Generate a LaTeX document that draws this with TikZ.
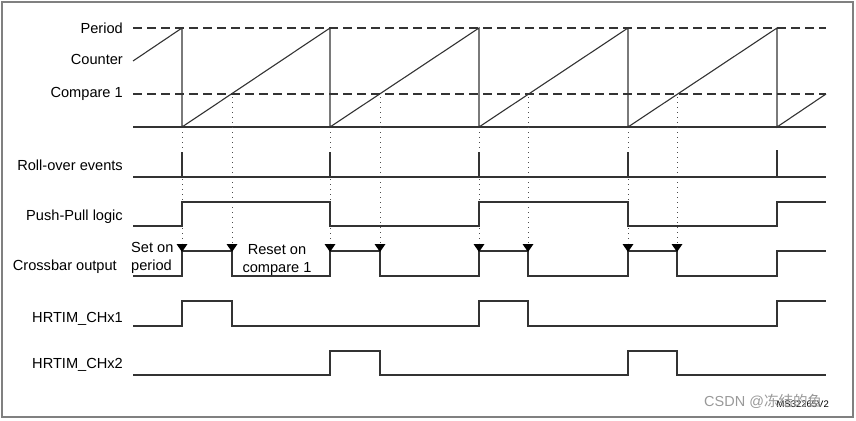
\documentclass[tikz,border=0pt]{standalone}
\usepackage{fontspec}
\setmainfont{Liberation Sans}
\newfontfamily\cjk{Noto Sans CJK SC}
\usetikzlibrary{calc}

\tikzset{
    lbl/.style={anchor=east, inner sep=0pt, font=\fontsize{14.6}{17.5}\selectfont},
    sig/.style={line width=1.1pt, black!80},
    guide/.style={line width=1.1pt, black!80, dash pattern=on 9pt off 5pt},
    evt/.style={line width=0.9pt, black!70, dash pattern=on 1pt off 4pt},
    tip/.style={fill=black}
}

\begin{document}
\begin{tikzpicture}[x=1pt, y=-1pt]
    \useasboundingbox (0,0) rectangle (856,420);
    \draw[gray, line width=1.5pt] (2,2) rectangle (853,417);

    % labels
    \node[lbl] (period) at (123,28) {Period};
    \node[lbl] (counter) at (123,59) {Counter};
    \node[lbl] (cmp) at (123,94) {Compare 1};
    \node[lbl] (roll) at (123,165) {Roll-over events};
    \node[lbl] (pp) at (123,217) {Push-Pull logic};
    \node[lbl] (xbar) at (117,267) {Crossbar output};
    \node[lbl] (chone) at (123,319) {HRTIM\_CHx1};
    \node[lbl] (chtwo) at (123,365) {HRTIM\_CHx2};

    % counter
    \draw[guide] (133,28) -- (826,28);
    \draw[guide] (133,94) -- (826,94);
    \draw[sig] (133,127) -- (826,127);
    \draw[sig] (133,61) -- (182,28) -- (182,127) -- (330,28) -- (330,127)
        -- (479,28) -- (479,127) -- (628,28) -- (628,127) -- (777,28)
        -- (777,127) -- (826,94);

    % event guides
    \foreach \x in {182,330,479,628} {
        \draw[evt] (\x,132) -- (\x,152);
        \draw[evt] (\x,179) -- (\x,202);
        \draw[evt] (\x,228) -- (\x,243);
    }
    \foreach \x in {232,380,528,677}
        \draw[evt] (\x,97) -- (\x,243);

    % roll-over events
    \draw[sig] (133,177) -- (826,177);
    \foreach \x in {182,330,479,628}
        \draw[sig] (\x,152) -- (\x,177);
    \draw[sig] (777,150) -- (777,177);

    % push-pull logic
    \draw[sig] (133,226) -- (182,226) -- (182,202) -- (330,202) -- (330,226)
        -- (479,226) -- (479,202) -- (628,202) -- (628,226) -- (777,226)
        -- (777,202) -- (826,202);

    % crossbar output
    \draw[sig] (133,276) -- (182,276) -- (182,251) -- (232,251) -- (232,276)
        -- (330,276) -- (330,251) -- (380,251) -- (380,276) -- (479,276)
        -- (479,251) -- (528,251) -- (528,276) -- (628,276) -- (628,251)
        -- (677,251) -- (677,276) -- (777,276) -- (777,251) -- (826,251);
    \foreach \x in {182,232,330,380,479,528,628,677}
        \fill[tip] (\x-5.5,244) -- (\x+5.5,244) -- (\x,252) -- cycle;
    \node[anchor=west, inner sep=0pt, align=left, font=\fontsize{14.6}{18}\selectfont]
        (seton) at (131,258) {Set on\\period};
    \node[inner sep=0pt, align=center, font=\fontsize{14.6}{18}\selectfont]
        (reseton) at (277,260) {Reset on\\compare 1};

    % outputs
    \draw[sig] (133,326) -- (182,326) -- (182,301) -- (232,301) -- (232,326)
        -- (479,326) -- (479,301) -- (528,301) -- (528,326) -- (777,326)
        -- (777,301) -- (826,301);
    \draw[sig] (133,375) -- (330,375) -- (330,351) -- (380,351) -- (380,375)
        -- (628,375) -- (628,351) -- (677,351) -- (677,375) -- (826,375);

    % figure id and watermark
    \node[anchor=east, inner sep=0pt, font=\fontsize{9.5}{11}\selectfont] (figid) at (829,404) {MS32265V2};
    \node[anchor=west, inner sep=0pt, text=black!40, font=\fontsize{14.5}{16}\selectfont]
        (mark) at (704,401) {CSDN @\cjk 冻结的鱼};
\end{tikzpicture}
\end{document}
